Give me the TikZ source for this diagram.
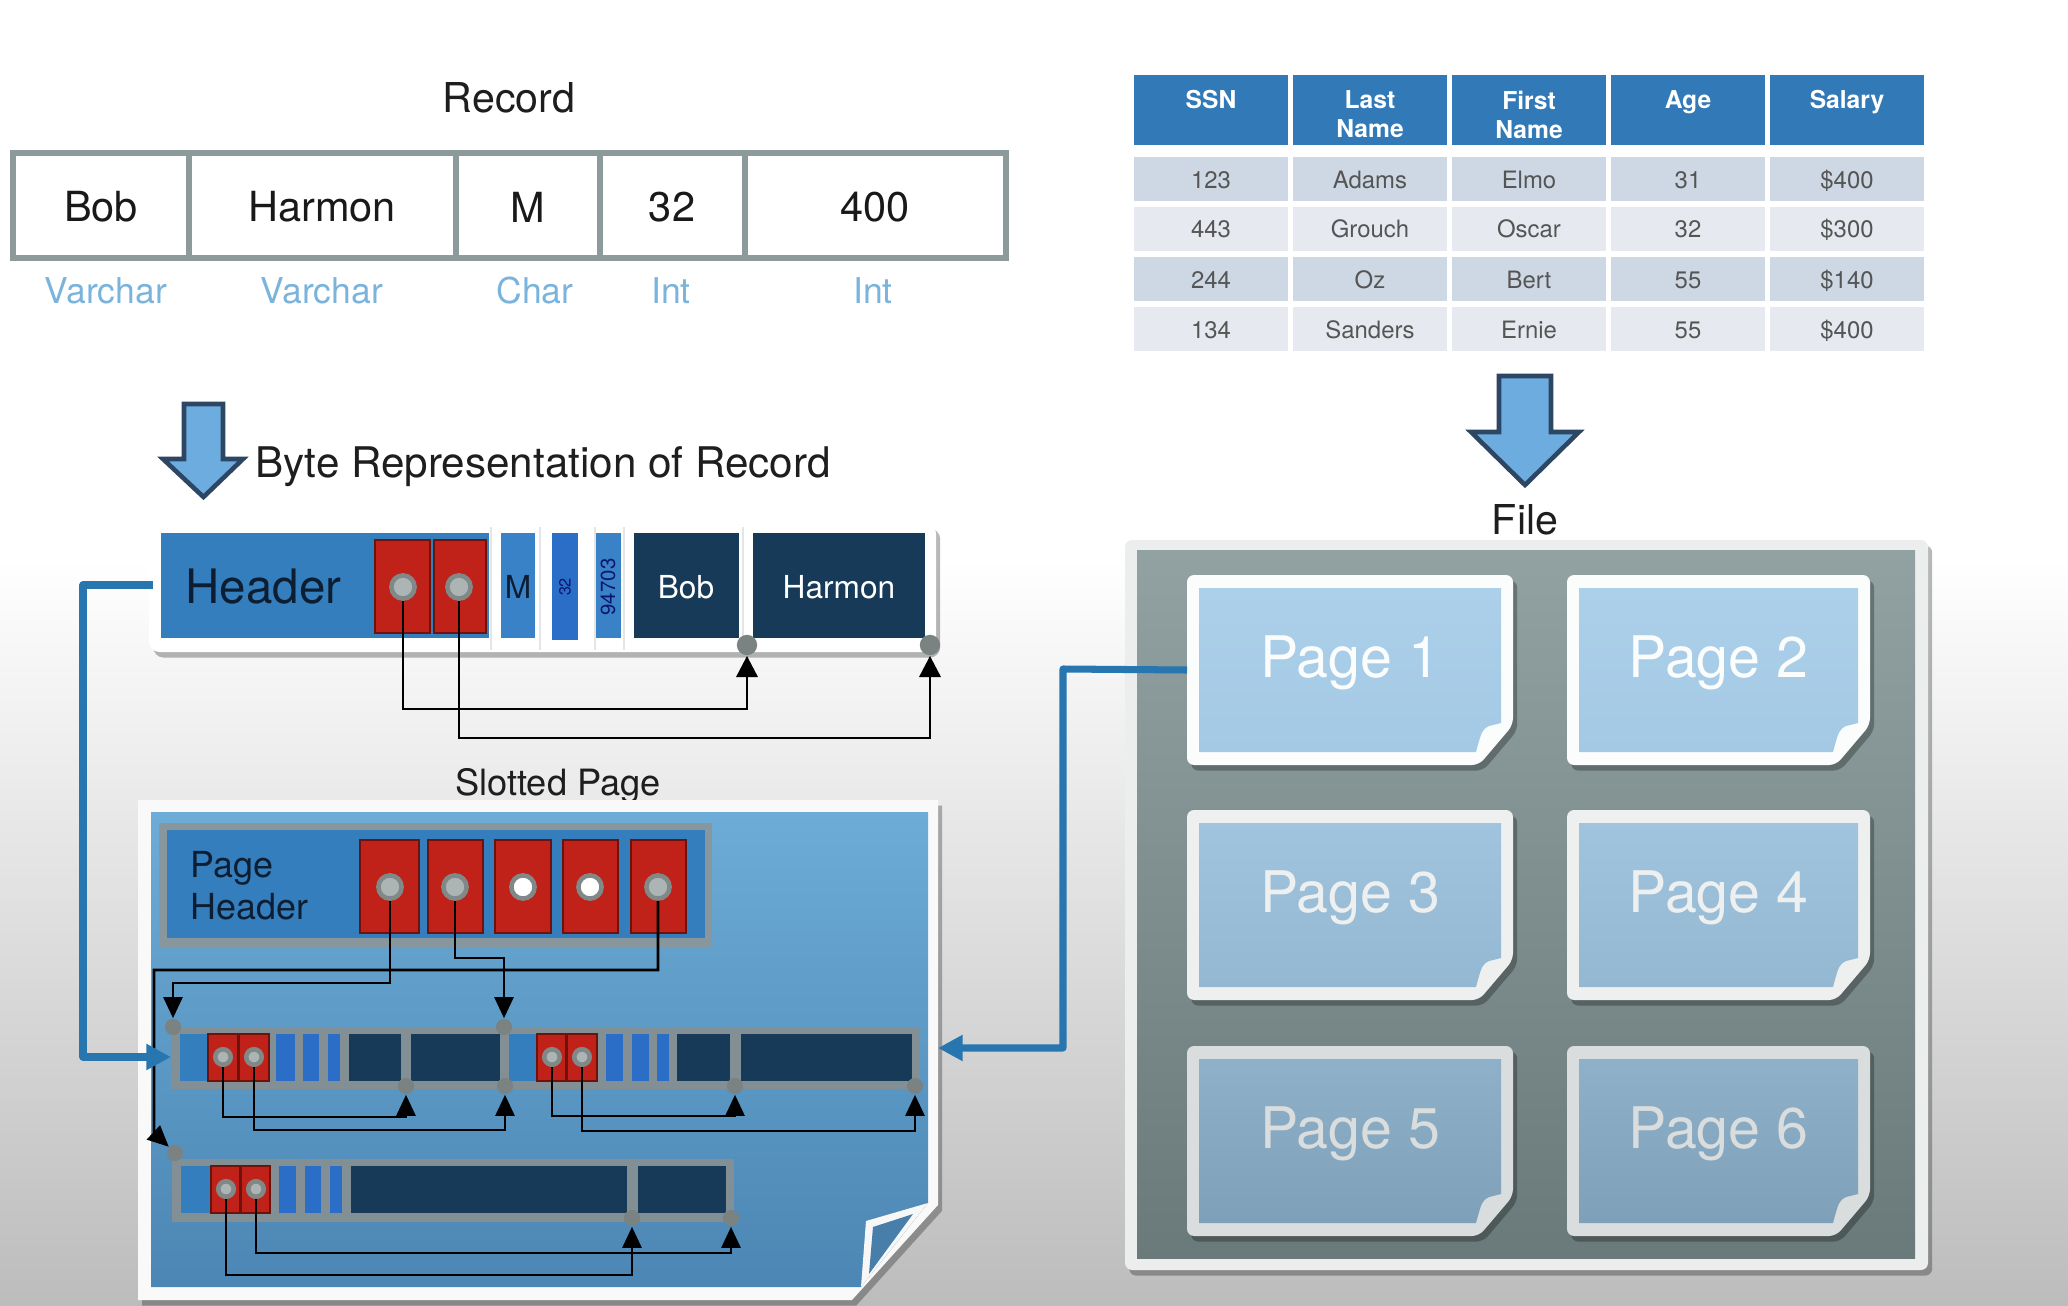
\documentclass[tikz,border=0pt]{standalone}
\usepackage{fontspec}
\setmainfont{TeX Gyre Heros}
\usetikzlibrary{arrows.meta,shadows,fit}
\definecolor{recgrey}{RGB}{140,154,154}
\definecolor{typeblue}{RGB}{122,180,220}
\definecolor{cellink}{RGB}{25,25,25}
\definecolor{thead}{RGB}{50,122,183}
\definecolor{trowA}{RGB}{205,216,228}
\definecolor{trowB}{RGB}{230,234,240}
\definecolor{ttext}{RGB}{85,85,85}
\definecolor{arrfill}{RGB}{108,172,222}
\definecolor{arrdraw}{RGB}{45,70,100}
\definecolor{hdrblue}{RGB}{52,126,190}
\definecolor{mblue}{RGB}{58,130,200}
\definecolor{brblue}{RGB}{42,110,200}
\definecolor{slotred}{RGB}{192,34,26}
\definecolor{slotredd}{RGB}{110,18,12}
\definecolor{navy}{RGB}{22,58,88}
\definecolor{navytext}{RGB}{14,30,50}
\definecolor{holering}{RGB}{128,136,136}
\definecolor{holefill}{RGB}{172,180,180}
\definecolor{dotgrey}{RGB}{122,130,130}
\definecolor{linkblue}{RGB}{40,118,176}
\definecolor{spblueT}{RGB}{108,172,214}
\definecolor{spblueB}{RGB}{76,134,180}
\definecolor{spfold}{RGB}{72,126,170}
\definecolor{phframe}{RGB}{136,150,158}
\definecolor{rowframe}{RGB}{130,144,150}
\definecolor{fileframe}{RGB}{236,238,238}
\definecolor{filegT}{RGB}{146,162,162}
\definecolor{filegB}{RGB}{106,122,122}
\definecolor{pfrA}{RGB}{251,252,252}
\definecolor{pinA}{RGB}{172,208,234}
\definecolor{pinAb}{RGB}{164,201,228}
\definecolor{pfrB}{RGB}{238,240,240}
\definecolor{pinB}{RGB}{160,196,222}
\definecolor{pinBb}{RGB}{148,184,210}
\definecolor{pfrC}{RGB}{218,221,221}
\definecolor{pinC}{RGB}{142,176,200}
\definecolor{pinCb}{RGB}{126,160,184}
\definecolor{bgbottom}{RGB}{188,188,188}
\definecolor{titleink}{RGB}{30,30,30}

\newcommand\fsz[2]{\fontsize{#1pt}{#2pt}\selectfont}

\tikzset{
 shdw/.style={drop shadow={shadow xshift=1.2pt, shadow yshift=-1.6pt, opacity=0.28, fill=black}},
 bigarrow/.style={fill=arrfill, draw=arrdraw, line width=1.3pt, line join=miter},
 celltext/.style={font=\fsz{11.8}{14}, text=cellink, inner sep=0},
 typetext/.style={font=\fsz{10.1}{12}, text=typeblue, inner sep=0},
 titletext/.style={font=\fsz{11.7}{14}, text=titleink, inner sep=0},
 thtext/.style={font=\fsz{7}{8.3}\bfseries, text=white, align=center, inner sep=0},
 tdtext/.style={font=\fsz{6.8}{8}, text=ttext, inner sep=0},
 redbox/.style={fill=slotred, draw=slotredd, line width=0.6pt},
 hole/.style={circle, inner sep=0, minimum size=#1, fill=holefill, draw=holering, line width=1.3pt},
 hole/.default=4.4pt,
 edot/.style={circle, inner sep=0, minimum size=#1, fill=dotgrey},
 edot/.default=4.6pt,
 blkA/.style={draw=black, line width=0.85pt, -{Triangle[length=6pt,width=6pt]}},
 blkB/.style={draw=black, line width=0.8pt, -{Triangle[length=6pt,width=5.4pt]}},
 link/.style={draw=linkblue, line width=2pt, line join=round, -{Triangle[length=7pt,width=7pt]}},
}

% file page: name, x0, y0, x1, y1, frame colour, inner top, inner bottom, label
\newcommand\filepage[9]{%
  \fill[#6, rounded corners=2pt, shdw] (#2,#3) -- (#4,#3) -- (#4,#5-40) -- (#4-34,#5) -- (#2,#5) -- cycle;
  \shade[top color=#7, bottom color=#8] (#2+12,#3+13) -- (#4-12,#3+13) -- (#4-12,#5-42)
     -- (#4-24,#5-39) .. controls (#4-31,#5-35) .. (#4-37,#5-13) -- (#2+12,#5-13) -- cycle;
  \coordinate (#1w) at (#2,{(#3+#5)/2});
  \node[font=\fsz{16.3}{19}, text=#6, anchor=base, inner sep=0] (#1) at ({(#2+#4)/2},#3+102) {#9};
}

\begin{document}
\begin{tikzpicture}[x=0.01cm,y=-0.01cm]
\useasboundingbox (0,0) rectangle (2068,1306);
\fill[white] (0,0) rectangle (2068,561);
\shade[top color=white, bottom color=bgbottom] (0,560) rectangle (2068,1306);

% ---------------- Record ----------------
\node[titletext] (rectitle) at (509,98) {Record};
\draw[recgrey, line width=1.7pt] (13,153) rectangle (1006,258);
\foreach \x in {189,456,600,745} \draw[recgrey, line width=1.5pt] (\x,153) -- (\x,258);
\node[celltext] (cBob) at (101,207) {Bob};
\node[celltext] (cHarmon) at (322,207) {Harmon};
\node[celltext] (cM) at (528,207) {M};
\node[celltext] (c32) at (672,207) {32};
\node[celltext] (c400) at (875,207) {400};
\node[typetext] (ty1) at (106,291) {Varchar};
\node[typetext] (ty2) at (322,291) {Varchar};
\node[typetext] (ty3) at (535,291) {Char};
\node[typetext] (ty4) at (671,291) {Int};
\node[typetext] (ty5) at (873,291) {Int};

% ---------------- Table ----------------
\foreach \t [count=\i from 0] in {SSN,{Last\\Name},{First\\Name},Age,Salary} {
  \fill[thead] (1134+159*\i,75) rectangle ++(154,70);
  \node[thtext, anchor=north] (th\i) at (1134+159*\i+77,90) {\t};
}
\foreach \row/\col [count=\r from 0] in {{123,Adams,Elmo,31,\$400}/trowA,{443,Grouch,Oscar,32,\$300}/trowB,{244,Oz,Bert,55,\$140}/trowA,{134,Sanders,Ernie,55,\$400}/trowB} {
  \foreach \t [count=\i from 0] in \row {
    \fill[\col] (1134+159*\i,157+50*\r) rectangle ++(154,44);
    \node[tdtext, anchor=base] (td\r\i) at (1134+159*\i+77,157+50*\r+31) {\t};
  }
}

% ---------------- big arrows ----------------
\filldraw[bigarrow] (184,404) -- (223,404) -- (223,459) -- (243,459) -- (203.5,497) -- (163,459) -- (184,459) -- cycle;
\node[anchor=base west, font=\fsz{12}{14}, text=titleink, inner sep=0] (bytetitle) at (255,477) {Byte Representation of Record};
\filldraw[bigarrow] (1499,376) -- (1551,376) -- (1551,432) -- (1579,432) -- (1525,485) -- (1471,432) -- (1499,432) -- cycle;

% ---------------- Byte representation ----------------
\node[fit={(149,523) (936,652)}, inner sep=0, fill=white, rounded corners=3pt, shdw] (bytefr) {};
\foreach \x in {491,540,595,624,743} \draw[black!10, line width=0.8pt] (\x,527) -- (\x,650);
\fill[hdrblue] (161,533) rectangle (489,638);
\node[anchor=west, font=\fsz{13.5}{16}, text=navytext, inner sep=0] (hdr) at (185,587) {Header};
\coordinate (hdrW) at (153,585);
\path[redbox] (375,540) rectangle (430,633);
\path[redbox] (434,540) rectangle (486,633);
\node[hole=6.6pt] (bh1) at (403,587) {};
\node[hole=6.6pt] (bh2) at (459,587) {};
\fill[mblue] (501,533) rectangle (535,638);
\node[font=\fsz{9}{10}, text=navytext, inner sep=0] (bM) at (518,587) {M};
\fill[brblue] (552,533) rectangle (578,640);
\node[rotate=90, font=\fsz{4.6}{5}, text=navytext!70!blue, inner sep=0] (b32) at (565,587) {32};
\fill[mblue] (596,533) rectangle (621,638);
\node[rotate=90, font=\fsz{5.8}{6}, text=navytext!70!blue, inner sep=0] (b947) at (608,587) {94703};
\fill[navy] (634,533) rectangle (739,638);
\node[font=\fsz{9}{10}, text=white, inner sep=0] (bBob) at (686,587) {Bob};
\fill[navy] (753,533) rectangle (925,638);
\node[font=\fsz{9}{10}, text=white, inner sep=0] (bHar) at (839,587) {Harmon};
\node[edot=5.8pt] (bd1) at (747,645) {};
\node[edot=5.8pt] (bd2) at (930,645) {};
\draw[blkA] (bh1.south) -- (bh1.south |- 0,709) -| (bd1.south);
\draw[blkA] (bh2.south) -- (bh2.south |- 0,738) -| (bd2.south);

% ---------------- Slotted page ----------------
\node[anchor=base, font=\fsz{10.3}{12}, text=titleink, inner sep=0] (sptitle) at (558,795) {Slotted Page};
\fill[white!95!gray, shdw] (138,800) -- (938,800) -- (938,1205) -- (852,1300) -- (138,1300) -- cycle;
\shade[top color=spblueT, bottom color=spblueB] (151,812) -- (928,812) -- (928,1203) -- (861,1287) -- (151,1287) -- cycle;
\fill[white!94!gray] (928,1203) -- (866,1221) -- (861,1287) -- cycle;
\fill[spfold] (913,1214) -- (873,1227) -- (869,1274) -- cycle;

% page header
\fill[phframe] (159,823) rectangle (712,947);
\fill[hdrblue] (167,830) rectangle (705,938);
\node[anchor=west, align=left, font=\fsz{10.2}{12}, text=navytext, inner sep=0] (phtext) at (190,886) {Page\\Header};
\foreach \a/\b in {360/419,428/483,495/551,563/618,631/686} \path[redbox] (\a,840) rectangle (\b,933);
\node[hole=6.6pt] (h1) at (390,887) {};
\node[hole=6.6pt] (h2) at (455,887) {};
\node[hole=6.6pt, fill=white] (h3) at (523,887) {};
\node[hole=6.6pt, fill=white] (h4) at (590,887) {};
\node[hole=6.6pt] (h5) at (658,887) {};

% record rows
\fill[rowframe] (171,1027) rectangle (920,1089);
\fill[rowframe] (172,1159) rectangle (734,1222);
% row 1, record A
\fill[hdrblue] (180,1034) rectangle (208,1081);
\path[redbox] (208,1034) rectangle (238,1081);
\path[redbox] (239,1034) rectangle (269,1081);
\foreach \a/\b in {276/295,303/319,328/340} \fill[brblue] (\a,1034) rectangle (\b,1081);
\foreach \a/\b in {349/401,411/500} \fill[navy] (\a,1034) rectangle (\b,1081);
% row 1, record B
\fill[hdrblue] (509,1034) rectangle (537,1081);
\path[redbox] (537,1034) rectangle (566,1081);
\path[redbox] (567,1034) rectangle (597,1081);
\foreach \a/\b in {606/623,632/649,657/669} \fill[brblue] (\a,1034) rectangle (\b,1081);
\foreach \a/\b in {677/730,741/912} \fill[navy] (\a,1034) rectangle (\b,1081);
% row 2
\fill[hdrblue] (181,1166) rectangle (211,1213);
\path[redbox] (211,1166) rectangle (240,1213);
\path[redbox] (241,1166) rectangle (270,1213);
\foreach \a/\b in {279/296,305/321,330/342} \fill[brblue] (\a,1166) rectangle (\b,1213);
\foreach \a/\b in {351/627,638/726} \fill[navy] (\a,1166) rectangle (\b,1213);

\node[hole] (a1) at (223,1057) {};
\node[hole] (a2) at (254,1057) {};
\node[hole] (b1) at (552,1057) {};
\node[hole] (b2) at (582,1057) {};
\node[hole] (c1) at (226,1189) {};
\node[hole] (c2) at (256,1189) {};

\node[edot] (r1s) at (173,1027) {};
\node[edot] (r1t) at (504,1027) {};
\node[edot] (r2s) at (175,1153) {};
\node[edot] (e1) at (406,1086) {};
\node[edot] (e2) at (505,1086) {};
\node[edot] (e3) at (735,1086) {};
\node[edot] (e4) at (915,1086) {};
\node[edot] (e5) at (632,1218) {};
\node[edot] (e6) at (731,1218) {};

\draw[blkB] (a1.south) -- (a1.south |- 0,1117) -| (e1.south);
\draw[blkB] (a2.south) -- (a2.south |- 0,1130) -| (e2.south);
\draw[blkB] (b1.south) -- (b1.south |- 0,1116) -| (e3.south);
\draw[blkB] (b2.south) -- (b2.south |- 0,1131) -| (e4.south);
\draw[blkB] (c1.south) -- (c1.south |- 0,1275) -| (e5.south);
\draw[blkB] (c2.south) -- (c2.south |- 0,1253) -| (e6.south);

\draw[blkB] (h1.south) -- (h1.south |- 0,983) -| (r1s.north);
\draw[blkB] (h2.south) -- (h2.south |- 0,958) -| (r1t.north);
\draw[blkB] (h5.south) -- (h5.south |- 0,970) -- (154,970) -- (154,1133) -- (r2s.north west);

\coordinate (r1in) at (171,1057);
\coordinate (spR) at (938,1048);

% ---------------- File ----------------
\node[titletext] (filetitle) at (1525,520) {File};
\fill[fileframe, rounded corners=2pt, shdw] (1125,540) rectangle (1928,1270);
\shade[top color=filegT, bottom color=filegB] (1137,550) rectangle (1915,1258);
\filepage{p1}{1187}{575}{1513}{765}{pfrA}{pinA}{pinAb}{Page 1}
\filepage{p2}{1567}{575}{1870}{765}{pfrA}{pinA}{pinAb}{Page 2}
\filepage{p3}{1187}{810}{1513}{1000}{pfrB}{pinB}{pinBb}{Page 3}
\filepage{p4}{1567}{810}{1870}{1000}{pfrB}{pinB}{pinBb}{Page 4}
\filepage{p5}{1187}{1046}{1513}{1236}{pfrC}{pinC}{pinCb}{Page 5}
\filepage{p6}{1567}{1046}{1870}{1236}{pfrC}{pinC}{pinCb}{Page 6}

% ---------------- blue links ----------------
\draw[link] (hdrW) -- (83,585) -- (83,1057) -- (r1in);
\draw[link] (p1w) -- (1063,669) -- (1063,1048) -- (spR);
\end{tikzpicture}
\end{document}
